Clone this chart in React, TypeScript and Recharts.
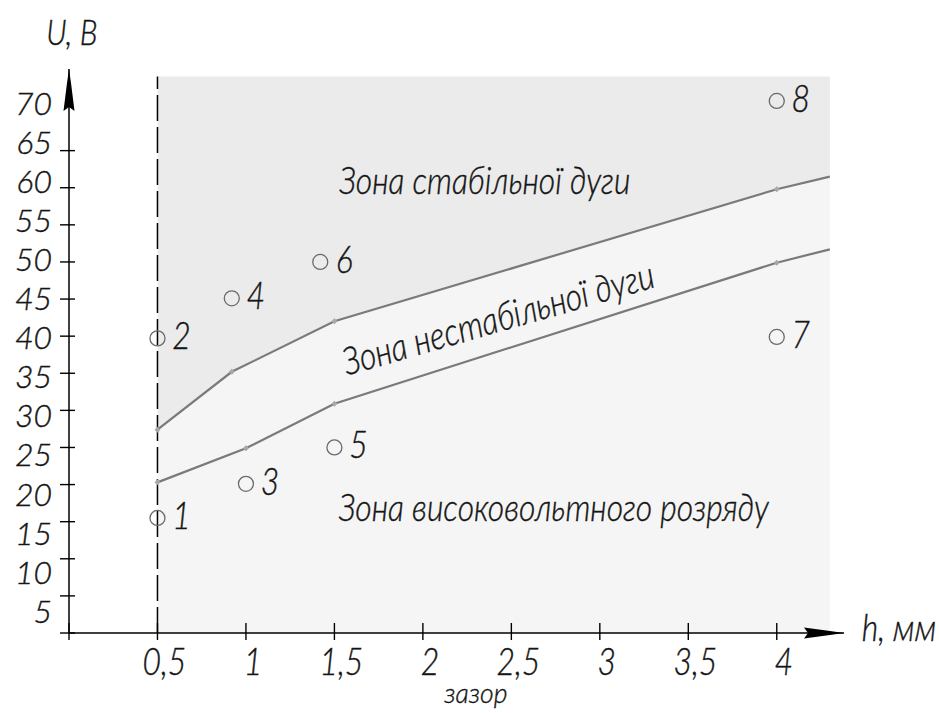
import React from 'react';
import { ComposedChart, XAxis, YAxis, Line, Area, Scatter, ReferenceDot, Label } from 'recharts';

// ---- data ----
const xTickValues = [0, 0.5, 1, 1.5, 2, 2.5, 3, 3.5, 4];
const xTickLabels = ['', '0,5', '1', '1,5', '2', '2,5', '3', '3,5', '4'];
const yTickValues = [0, 5, 10, 15, 20, 25, 30, 35, 40, 45, 50, 55, 60, 65, 70];

// boundary of the stable-arc zone (upper line)
const upperH = [0.5, 0.92, 1.5, 4, 4.3];
const upperU = [27.4, 35.2, 42, 59.8, 61.5];
// boundary of the high-voltage-discharge zone (lower line)
const lowerH = [0.5, 1, 1.5, 4, 4.3];
const lowerU = [20.3, 24.9, 30.9, 49.9, 51.7];

// experimental points
const pointNames = ['1', '2', '3', '4', '5', '6', '7', '8'];
const pointH = [0.5, 0.5, 1, 0.92, 1.5, 1.42, 4, 4];
const pointU = [15.5, 39.7, 20.1, 45.1, 25, 50, 39.9, 71.7];

// zone captions (anchor in data coordinates)
const zoneNames = ['Зона стабільної дуги', 'Зона нестабільної дуги', 'Зона високовольтного розряду'];
const zoneH = [2.35, 2.425, 2.74];
const zoneU = [61.1, 42.5, 17.0];

const zoneTop = 75;
const gapLine = 0.5;
const X_MAX = 4.38;
const Y_MAX = 76;

// ---- tables built from arrays ----
const upperData = upperH.map((x, i) => ({ x, y: upperU[i] }));
const lowerData = lowerH.map((x, i) => ({ x, y: lowerU[i] }));
const dashData = [{ x: gapLine, y: 0 }, { x: gapLine, y: zoneTop }];
const pointData = pointH.map((x, i) => ({ x, y: pointU[i], name: pointNames[i] }));

const FONT = "Lato, 'DejaVu Sans', sans-serif";
const SX = 0.84;
const INK = '#151515';

const GText = ({ x, y, anchor = 'middle', rotate = 0, dy = 0, size = 38, sx = SX, children }: any) => (
  <g transform={`translate(${x},${y}) rotate(${rotate}) scale(${sx},1)`}>
    <text
      x={0}
      y={dy}
      textAnchor={anchor}
      fontFamily={FONT}
      fontSize={size}
      fontStyle="italic"
      fontWeight={300}
      fill={INK}
      stroke={INK}
      strokeWidth={0.4}
    >
      {children}
    </text>
  </g>
);

const YTick = (props: any) => {
  const { x, y, payload } = props;
  const v = payload.value;
  return (
    <g>
      {v !== 70 && <line x1={x - 9} x2={x + 6} y1={y} y2={y} stroke="#000" strokeWidth={1.4} />}
      {v !== 0 && (
        <GText x={x - 17} y={y + (17 - v * 0.4)} dy={12} anchor="end" size={32} sx={1}>
          {String(v)}
        </GText>
      )}
    </g>
  );
};

const XTick = (props: any) => {
  const { x, y, payload } = props;
  const v = payload.value;
  const label = xTickLabels[xTickValues.indexOf(v)];
  return (
    <g>
      <line x1={x} x2={x} y1={y - 10} y2={y + 7} stroke="#000" strokeWidth={1.4} />
      {label && (
        <GText x={x + 7} y={y + 42} anchor="middle">
          {label}
        </GText>
      )}
    </g>
  );
};

const makeDot = (n: number) => (props: any) => {
  const { cx, cy, index } = props;
  if (index === n - 1 || cx == null) return <g key={`d${index}`} />;
  return (
    <polygon
      key={`d${index}`}
      points={`${cx},${cy - 3} ${cx + 3},${cy} ${cx},${cy + 3} ${cx - 3},${cy}`}
      fill="#a8a8a8"
    />
  );
};

const PointShape = (props: any) => {
  const { cx, cy, payload } = props;
  return (
    <g>
      <circle cx={cx} cy={cy} r={7.5} fill="none" stroke="#6a6a6a" strokeWidth={1.3} />
      <GText x={cx + 24} y={cy - 3} dy={14} anchor="middle">
        {payload.name}
      </GText>
    </g>
  );
};

const ArrowUp = (props: any) => {
  const { cx, cy } = props;
  return (
    <polygon
      points={`${cx},${cy} ${cx + 2},${cy + 14} ${cx + 5.5},${cy + 42} ${cx},${cy + 38} ${cx - 5.5},${cy + 42} ${cx - 2},${cy + 14}`}
      fill="#000"
    />
  );
};

const ArrowRight = (props: any) => {
  const { cx, cy } = props;
  return (
    <polygon
      points={`${cx},${cy} ${cx - 14},${cy - 2} ${cx - 40},${cy - 5.5} ${cx - 36},${cy} ${cx - 40},${cy + 5.5} ${cx - 14},${cy + 2}`}
      fill="#000"
    />
  );
};

const zoneRot = [0, -16, 0];

export default function App() {
  return (
    <div style={{ position: 'absolute', left: 0, top: 0, width: 939, height: 713, background: '#fff' }}>
      <ComposedChart
        width={939}
        height={713}
        margin={{ top: 69, right: 95, bottom: 79, left: 68 }}
      >
        <XAxis
          type="number"
          dataKey="x"
          domain={[0, X_MAX]}
          ticks={xTickValues}
          interval={0}
          height={1}
          tickSize={0}
          tickMargin={0}
          tickLine={false}
          axisLine={{ stroke: '#000', strokeWidth: 1.5 }}
          tick={XTick}
          allowDataOverflow
        >
          <Label
            content={(p: any) => {
              const vb = p.viewBox || { x: 69, y: 633, width: 775, height: 1 };
              return (
                <g>
                  <GText x={vb.x + vb.width + 55} y={vb.y} dy={8} anchor="middle">
                    h, мм
                  </GText>
                  <GText x={vb.x + vb.width * 0.525} y={vb.y + 70} anchor="middle" size={28} sx={0.95}>
                    зазор
                  </GText>
                </g>
              );
            }}
          />
        </XAxis>
        <YAxis
          type="number"
          dataKey="y"
          domain={[0, Y_MAX]}
          ticks={yTickValues}
          interval={0}
          width={1}
          tickSize={0}
          tickMargin={0}
          tickLine={false}
          axisLine={{ stroke: '#000', strokeWidth: 1.5 }}
          tick={YTick}
          allowDataOverflow
        >
          <Label
            content={(p: any) => {
              const vb = p.viewBox || { x: 68, y: 69, width: 1, height: 564 };
              return (
                <GText x={vb.x + 4} y={vb.y - 36} dy={12} anchor="middle" size={36}>
                  U, B
                </GText>
              );
            }}
          />
        </YAxis>

        <Area
          data={upperData}
          dataKey="y"
          baseValue={0}
          type="linear"
          fill="#f5f5f5"
          fillOpacity={1}
          stroke="none"
          dot={false}
          activeDot={false}
          isAnimationActive={false}
        />
        <Area
          data={upperData}
          dataKey="y"
          baseValue={zoneTop}
          type="linear"
          fill="#ebebeb"
          fillOpacity={1}
          stroke="none"
          dot={false}
          activeDot={false}
          isAnimationActive={false}
        />
        <Line
          data={dashData}
          dataKey="y"
          type="linear"
          stroke="#000"
          strokeWidth={1.5}
          strokeDasharray="26 6"
          dot={false}
          activeDot={false}
          isAnimationActive={false}
        />
        <Line
          data={upperData}
          dataKey="y"
          type="linear"
          stroke="#7a7a7a"
          strokeWidth={2.2}
          dot={makeDot(upperData.length)}
          activeDot={false}
          isAnimationActive={false}
        />
        <Line
          data={lowerData}
          dataKey="y"
          type="linear"
          stroke="#7a7a7a"
          strokeWidth={2.2}
          dot={makeDot(lowerData.length)}
          activeDot={false}
          isAnimationActive={false}
        />
        <Scatter data={pointData} dataKey="y" shape={PointShape} isAnimationActive={false} />

        {zoneNames.map((name, i) => (
          <ReferenceDot
            key={name}
            x={zoneH[i]}
            y={zoneU[i]}
            ifOverflow="visible"
            zIndex={2000}
            shape={(p: any) => (
              <GText x={p.cx} y={p.cy} dy={14} rotate={zoneRot[i]} anchor="middle">
                {name}
              </GText>
            )}
          />
        ))}
        <ReferenceDot x={0} y={Y_MAX} ifOverflow="visible" zIndex={2000} shape={ArrowUp} />
        <ReferenceDot x={X_MAX} y={0} ifOverflow="visible" zIndex={2000} shape={ArrowRight} />
      </ComposedChart>
    </div>
  );
}
